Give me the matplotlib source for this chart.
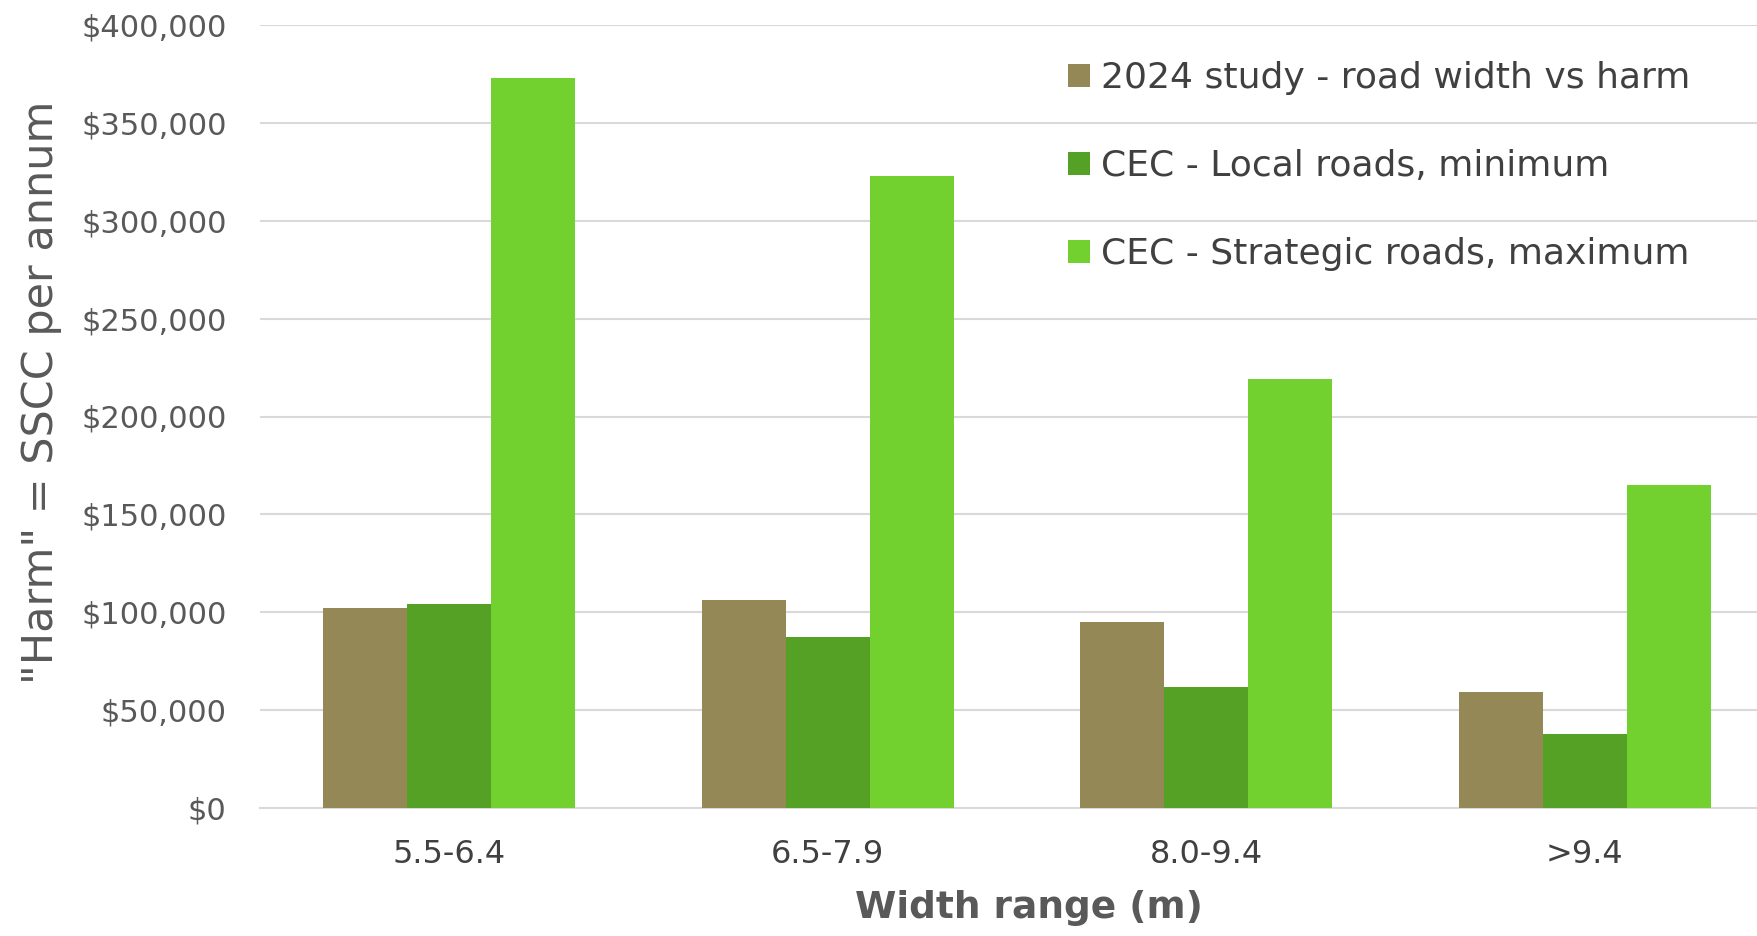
import matplotlib.pyplot as plt
from matplotlib.ticker import FuncFormatter
import numpy as np

# Data
categories = ["5.5-6.4", "6.5-7.9", "8.0-9.4", ">9.4"]
study_2024 = [102000, 106500, 95000, 59500]
cec_local_min = [104000, 87500, 62000, 38000]
cec_strategic_max = [373000, 323000, 219000, 165000]

series_names = [
    "2024 study - road width vs harm",
    "CEC - Local roads, minimum",
    "CEC - Strategic roads, maximum",
]
colors = ["#938856", "#55a125", "#73d12f"]

TEXT_COLOR = "#595959"
GRID_COLOR = "#d9d9d9"

fig = plt.figure(figsize=(17.58, 9.36), dpi=100)
ax = fig.add_axes([260 / 1758, 1 - 808 / 936, 1514 / 1758, (808 - 25) / 936])

x = np.arange(len(categories))
bar_w = 0.222
for i, (vals, name, col) in enumerate(zip([study_2024, cec_local_min, cec_strategic_max], series_names, colors)):
    ax.bar(x + (i - 1) * bar_w, vals, width=bar_w, color=col, label=name, zorder=3)

ax.set_xlim(-0.5, 3.5)
ax.set_ylim(0, 400000)
ax.set_yticks(np.arange(0, 400001, 50000))
ax.yaxis.set_major_formatter(FuncFormatter(lambda v, p: f"${v:,.0f}"))
ax.set_xticks(x)
ax.set_xticklabels(categories)

ax.grid(axis="y", color=GRID_COLOR, linewidth=1.5, zorder=0)
for side in ["top", "right", "left"]:
    ax.spines[side].set_visible(False)
ax.spines["bottom"].set_color(GRID_COLOR)
ax.spines["bottom"].set_linewidth(1.5)

ax.tick_params(axis="y", length=0, pad=24, labelsize=22, labelcolor=TEXT_COLOR)
ax.tick_params(axis="x", length=0, pad=22, labelsize=23, labelcolor="#404040")

# axis titles
ax.set_ylabel('"Harm" = SSCC per annum', fontsize=31, color=TEXT_COLOR)
ax.yaxis.label.set_va("center")
ax.yaxis.set_label_coords(-0.1447, 0.531)
ax.set_xlabel("Width range (m)", fontsize=27, color=TEXT_COLOR, fontweight="bold")
ax.xaxis.label.set_va("center")
ax.xaxis.set_label_coords(0.508, -0.128)

leg = ax.legend(loc="upper left", bbox_to_anchor=(0.5337, 0.954), frameon=False,
                fontsize=26, labelcolor="#404040", handlelength=0.6, handleheight=0.6,
                handletextpad=0.3, labelspacing=1.5, borderaxespad=0, borderpad=0)

fig.savefig("out.png", dpi=100)
